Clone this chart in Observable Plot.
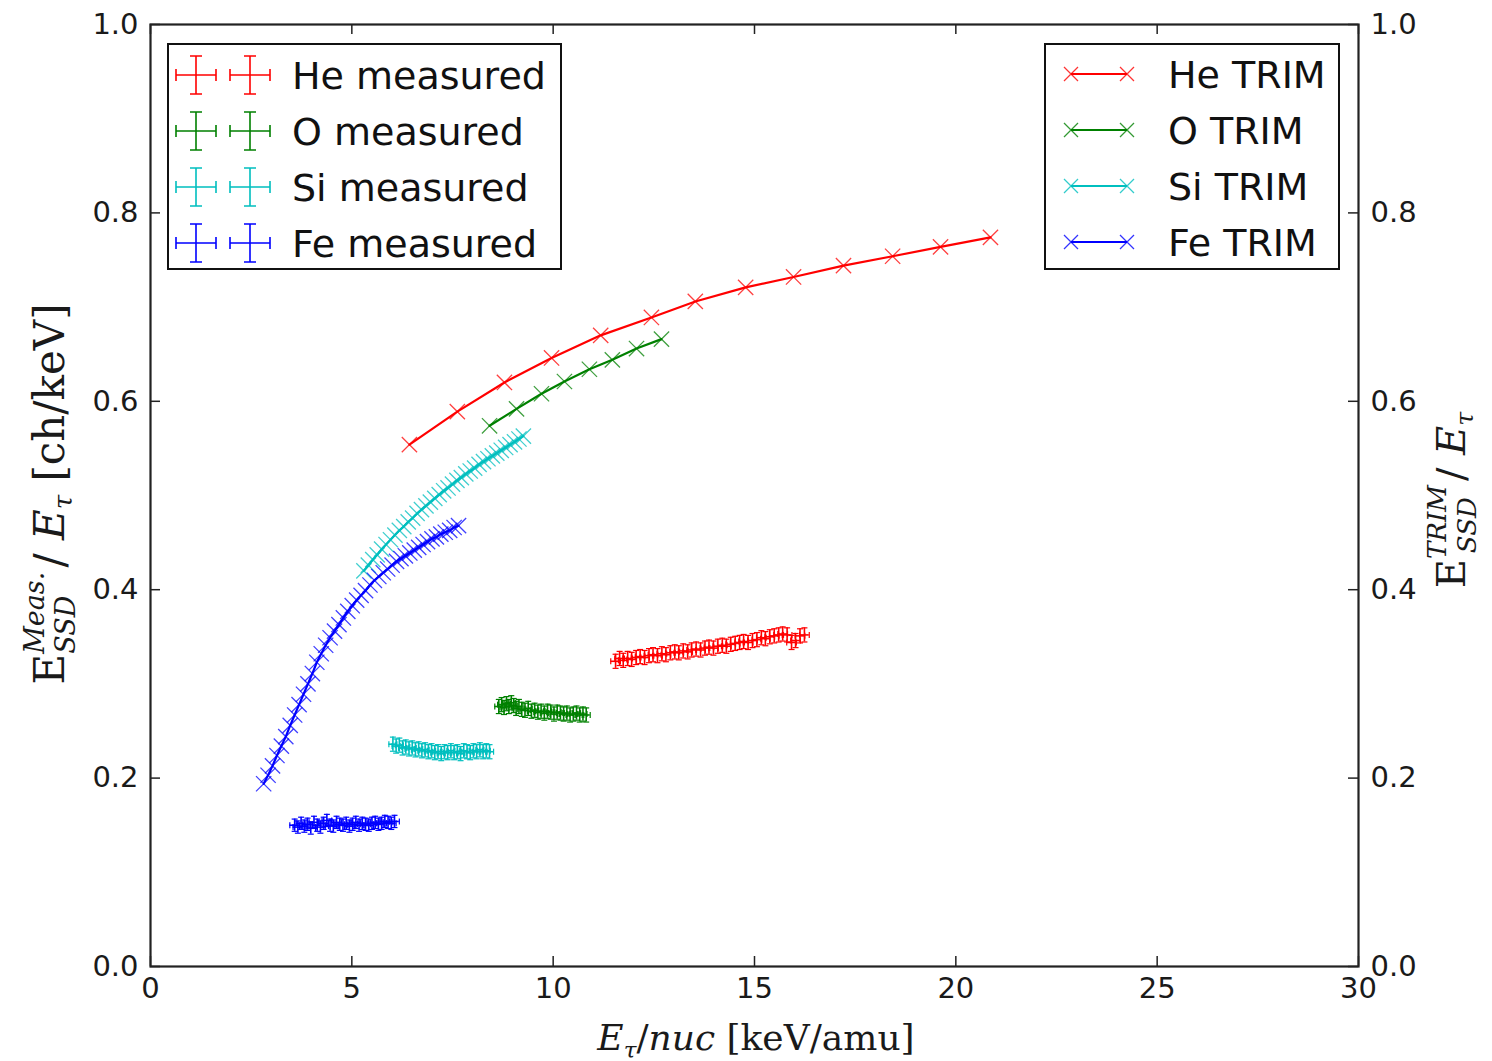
<!DOCTYPE html>
<html><head><meta charset="utf-8">
<script src="https://cdn.jsdelivr.net/npm/d3@7"></script>
<script src="https://cdn.jsdelivr.net/npm/@observablehq/plot@0.6"></script>
<style>
body{margin:0;background:#fff;}
#chart{position:relative;width:1492px;height:1061px;}
</style></head><body><div id="chart"></div>
<script>
// ---------- data ----------
const xTicks = [0, 5, 10, 15, 20, 25, 30];
const yTicks = [0.0, 0.2, 0.4, 0.6, 0.8, 1.0];

// TRIM simulations
const heTrimX = [6.43, 7.62, 8.79, 9.96, 11.18, 12.44, 13.53, 14.78, 15.97, 17.21, 18.43, 19.62, 20.86];
const heTrimY = [0.554, 0.589, 0.620, 0.646, 0.670, 0.689, 0.706, 0.721, 0.732, 0.744, 0.754, 0.764, 0.774];
const oTrimX = [8.42, 9.09, 9.71, 10.28, 10.90, 11.47, 12.07, 12.69];
const oTrimY = [0.574, 0.592, 0.608, 0.621, 0.634, 0.644, 0.656, 0.666];
const siTrimX = [5.30,5.41,5.52,5.63,5.74,5.85,5.96,6.07,6.18,6.29,6.40,6.51,6.62,6.73,6.84,6.95,7.06,7.17,7.28,7.39,7.50,7.61,7.72,7.83,7.94,8.05,8.16,8.27,8.38,8.49,8.60,8.71,8.82,8.93,9.04,9.15,9.26];
const siTrimY = [0.420,0.426,0.432,0.437,0.443,0.448,0.453,0.458,0.463,0.467,0.472,0.476,0.481,0.485,0.489,0.493,0.497,0.501,0.505,0.508,0.512,0.516,0.519,0.523,0.526,0.529,0.533,0.536,0.539,0.542,0.545,0.548,0.551,0.554,0.557,0.560,0.563];
const feTrimX = [2.81,2.92,3.03,3.14,3.25,3.36,3.47,3.58,3.69,3.80,3.91,4.02,4.13,4.24,4.35,4.46,4.57,4.68,4.79,4.90,5.01,5.12,5.23,5.34,5.45,5.56,5.67,5.78,5.89,6.00,6.11,6.22,6.33,6.44,6.55,6.66,6.77,6.88,6.99,7.10,7.21,7.32,7.43,7.54,7.65];
const feTrimY = [0.194,0.203,0.213,0.224,0.234,0.244,0.256,0.267,0.278,0.289,0.300,0.311,0.323,0.332,0.341,0.349,0.356,0.363,0.370,0.377,0.383,0.389,0.394,0.399,0.405,0.410,0.414,0.418,0.422,0.426,0.430,0.433,0.436,0.439,0.442,0.445,0.448,0.451,0.454,0.456,0.459,0.461,0.463,0.466,0.468];

// measured
const heMeasX = [11.55,11.65,11.74,11.85,11.95,12.06,12.16,12.27,12.38,12.48,12.59,12.70,12.80,12.91,13.02,13.12,13.23,13.34,13.44,13.55,13.66,13.77,13.87,13.98,14.09,14.20,14.30,14.41,14.52,14.63,14.73,14.84,14.95,15.06,15.17,15.27,15.38,15.49,15.60,15.70,15.81,15.92,16.02,16.13,16.24];
const heMeasY = [0.324,0.327,0.325,0.327,0.326,0.328,0.329,0.328,0.330,0.331,0.330,0.332,0.331,0.333,0.334,0.333,0.335,0.334,0.336,0.337,0.336,0.338,0.339,0.338,0.340,0.341,0.340,0.342,0.343,0.344,0.345,0.344,0.346,0.347,0.349,0.348,0.350,0.351,0.352,0.353,0.352,0.344,0.346,0.351,0.352];
const oMeasX = [8.65,8.72,8.78,8.84,8.90,8.96,9.02,9.08,9.15,9.22,9.30,9.38,9.46,9.54,9.62,9.70,9.78,9.86,9.94,10.02,10.10,10.18,10.26,10.34,10.42,10.50,10.58,10.66,10.74,10.82];
const oMeasY = [0.276,0.278,0.275,0.279,0.276,0.280,0.277,0.274,0.276,0.273,0.272,0.274,0.271,0.272,0.270,0.271,0.269,0.271,0.270,0.268,0.270,0.269,0.268,0.269,0.267,0.268,0.269,0.267,0.268,0.267];
const siMeasX = [6.02,6.10,6.18,6.26,6.34,6.42,6.50,6.58,6.66,6.74,6.82,6.90,6.98,7.06,7.14,7.22,7.30,7.38,7.46,7.54,7.62,7.70,7.78,7.86,7.94,8.02,8.10,8.18,8.26,8.34,8.42];
const siMeasY = [0.236,0.234,0.235,0.232,0.233,0.231,0.232,0.230,0.231,0.229,0.230,0.228,0.229,0.227,0.228,0.226,0.228,0.227,0.229,0.227,0.228,0.226,0.229,0.228,0.227,0.229,0.228,0.230,0.228,0.229,0.228];
const feMeasX = [3.58,3.66,3.74,3.82,3.90,3.98,4.06,4.14,4.22,4.30,4.38,4.46,4.54,4.62,4.70,4.78,4.86,4.94,5.02,5.10,5.18,5.26,5.34,5.42,5.50,5.58,5.66,5.74,5.82,5.90,5.98,6.06];
const feMeasY = [0.150,0.148,0.152,0.149,0.151,0.147,0.153,0.150,0.148,0.152,0.155,0.150,0.149,0.153,0.151,0.150,0.152,0.149,0.151,0.153,0.150,0.152,0.151,0.150,0.152,0.153,0.151,0.152,0.154,0.153,0.152,0.154];
const measXErr = [0.12, 0.10, 0.10, 0.12]; // He, O, Si, Fe
const measYErr = [0.0075, 0.0075, 0.0075, 0.0065];

const species = ["He", "O", "Si", "Fe"];
const colors = ["#ff0000", "#008000", "#00bfbf", "#0000ff"];

// ---------- build tables ----------
const zip = (xs, ys, extra) => xs.map((x, i) => ({x, y: ys[i], ...extra}));
const trim = [
  zip(heTrimX, heTrimY, {s: "He"}), zip(oTrimX, oTrimY, {s: "O"}),
  zip(siTrimX, siTrimY, {s: "Si"}), zip(feTrimX, feTrimY, {s: "Fe"})
];
const meas = [
  zip(heMeasX, heMeasY, {s: "He"}), zip(oMeasX, oMeasY, {s: "O"}),
  zip(siMeasX, siMeasY, {s: "Si"}), zip(feMeasX, feMeasY, {s: "Fe"})
];

const W = 1492, H = 1061, mL = 150, mR = 134, mT = 24, mB = 95;
const plotH = H - mT - mB, plotW = W - mL - mR;
const tickPx = 10;
const tyLen = tickPx / plotH * 1.0;   // in y units (domain 0..1)
const txLen = tickPx / plotW * 30;    // in x units (domain 0..30)

const hCap = {draw(ctx, size) { const r = Math.sqrt(size / Math.PI); ctx.moveTo(-r, 0); ctx.lineTo(r, 0); }};
const vCap = {draw(ctx, size) { const r = Math.sqrt(size / Math.PI); ctx.moveTo(0, -r); ctx.lineTo(0, r); }};

const marks = [];
meas.forEach((data, i) => {
  const c = colors[i], ex = measXErr[i], ey = measYErr[i];
  marks.push(
    Plot.ruleY(data, {y: "y", x1: d => d.x - ex, x2: d => d.x + ex, stroke: c, strokeWidth: 1.6}),
    Plot.ruleX(data, {x: "x", y1: d => d.y - ey, y2: d => d.y + ey, stroke: c, strokeWidth: 1.6}),
    Plot.dot(data, {x: "x", y: d => d.y + ey, symbol: hCap, r: 3, stroke: c, strokeWidth: 1.2, fill: "none"}),
    Plot.dot(data, {x: "x", y: d => d.y - ey, symbol: hCap, r: 3, stroke: c, strokeWidth: 1.2, fill: "none"}),
    Plot.dot(data, {x: d => d.x + ex, y: "y", symbol: vCap, r: 3, stroke: c, strokeWidth: 1.2, fill: "none"}),
    Plot.dot(data, {x: d => d.x - ex, y: "y", symbol: vCap, r: 3, stroke: c, strokeWidth: 1.2, fill: "none"})
  );
});
trim.forEach((data, i) => {
  const c = colors[i];
  marks.push(
    Plot.line(data, {x: "x", y: "y", stroke: c, strokeWidth: 2.2}),
    Plot.dot(data, {x: "x", y: "y", symbol: "times", r: 7, stroke: c, strokeWidth: 1.3, strokeOpacity: 0.75})
  );
});

// inward ticks on all four sides
marks.push(
  Plot.ruleX(xTicks, {x: d => d, y1: 0, y2: tyLen, stroke: "#222", strokeWidth: 1.5}),
  Plot.ruleX(xTicks, {x: d => d, y1: 1 - tyLen, y2: 1, stroke: "#222", strokeWidth: 1.5}),
  Plot.ruleY(yTicks, {y: d => d, x1: 0, x2: txLen, stroke: "#222", strokeWidth: 1.5}),
  Plot.ruleY(yTicks, {y: d => d, x1: 30 - txLen, x2: 30, stroke: "#222", strokeWidth: 1.5}),
  Plot.axisX(xTicks, {tickSize: 0, tickPadding: 11, tickFormat: d3.format("d"), fontSize: 29, fill: "#1a1a1a", label: null}),
  Plot.axisY(yTicks, {anchor: "left", tickSize: 0, tickPadding: 12, tickFormat: d3.format(".1f"), fontSize: 29, fill: "#1a1a1a", label: null}),
  Plot.axisY(yTicks, {anchor: "right", tickSize: 0, tickPadding: 12, tickFormat: d3.format(".1f"), fontSize: 29, fill: "#1a1a1a", label: null}),
  Plot.frame({stroke: "#222", strokeWidth: 2.2})
);

const chart = Plot.plot({
  width: W, height: H,
  marginLeft: mL, marginRight: mR, marginTop: mT, marginBottom: mB,
  style: {fontFamily: "DejaVu Sans", background: "#fff", overflow: "visible"},
  x: {domain: [0, 30]},
  y: {domain: [0, 1]},
  marks
});
document.getElementById("chart").appendChild(chart);

// ---------- annotations: axis labels and legends ----------
const svg = d3.select(chart);
const serif = "DejaVu Serif";

// x label
const xl = svg.append("text").attr("x", 756).attr("y", 1050).attr("text-anchor", "middle")
  .attr("font-family", serif).attr("font-size", 36).attr("fill", "#1a1a1a");
xl.append("tspan").attr("font-style", "italic").text("E");
xl.append("tspan").attr("font-style", "italic").attr("font-size", 23).attr("dy", 8).text("τ");
xl.append("tspan").attr("dy", -8).text("/");
xl.append("tspan").attr("font-style", "italic").text("nuc");
xl.append("tspan").text(" [keV/amu]");

// left y label
const yl = svg.append("text").attr("transform", "translate(64,494) rotate(-90)").attr("text-anchor", "middle")
  .attr("font-family", serif).attr("font-size", 42).attr("fill", "#1a1a1a");
yl.append("tspan").text("E");
yl.append("tspan").attr("font-style", "italic").attr("font-size", 27).attr("dy", -20).text("Meas.");
yl.append("tspan").attr("font-style", "italic").attr("font-size", 27).attr("dx", -82).attr("dy", 31).text("SSD");
yl.append("tspan").attr("dx", 28).attr("dy", -11).text("/ ");
yl.append("tspan").attr("font-style", "italic").text("E");
yl.append("tspan").attr("font-style", "italic").attr("font-size", 26).attr("dy", 8).text("τ");
yl.append("tspan").attr("dy", -8).text(" [ch/keV]");

// right y label
const yr = svg.append("text").attr("transform", "translate(1465,500) rotate(-90)").attr("text-anchor", "middle")
  .attr("font-family", serif).attr("font-size", 40).attr("fill", "#1a1a1a");
yr.append("tspan").text("E");
yr.append("tspan").attr("font-style", "italic").attr("font-size", 26).attr("dy", -19).text("TRIM");
yr.append("tspan").attr("font-style", "italic").attr("font-size", 26).attr("dx", -68).attr("dy", 30).text("SSD");
yr.append("tspan").attr("dx", 16).attr("dy", -11).text("/ ");
yr.append("tspan").attr("font-style", "italic").text("E");
yr.append("tspan").attr("font-style", "italic").attr("font-size", 25).attr("dy", 8).text("τ");

const rowY = [75, 131, 187, 243];

// left legend (measured)
const gl = svg.append("g").attr("text-anchor", "start");
gl.append("rect").attr("x", 168).attr("y", 44).attr("width", 393).attr("height", 225)
  .attr("fill", "#fff").attr("stroke", "#111").attr("stroke-width", 2);
species.forEach((s, i) => {
  const c = colors[i], cy = rowY[i];
  [196, 250].forEach(cx => {
    const p = `M${cx - 20},${cy}H${cx + 20}M${cx},${cy - 19}V${cy + 19}` +
      `M${cx - 20},${cy - 6}V${cy + 6}M${cx + 20},${cy - 6}V${cy + 6}` +
      `M${cx - 6},${cy - 19}H${cx + 6}M${cx - 6},${cy + 19}H${cx + 6}`;
    gl.append("path").attr("d", p).attr("stroke", c).attr("stroke-width", 1.6).attr("fill", "none");
  });
  gl.append("text").attr("x", 292).attr("y", cy).attr("dy", "0.36em").attr("text-anchor", "start")
    .attr("font-family", "DejaVu Sans").attr("font-size", 38).attr("fill", "#111").text(`${s} measured`);
});

// right legend (TRIM)
const gr = svg.append("g").attr("text-anchor", "start");
gr.append("rect").attr("x", 1045).attr("y", 44).attr("width", 294).attr("height", 225)
  .attr("fill", "#fff").attr("stroke", "#111").attr("stroke-width", 2);
species.forEach((s, i) => {
  const c = colors[i], cy = rowY[i] - 1;
  gr.append("path").attr("d", `M1071,${cy}H1127`).attr("stroke", c).attr("stroke-width", 2.2);
  [1071, 1127].forEach(cx => {
    gr.append("path").attr("d", `M${cx - 7},${cy - 7}L${cx + 7},${cy + 7}M${cx - 7},${cy + 7}L${cx + 7},${cy - 7}`)
      .attr("stroke", c).attr("stroke-width", 1.3).attr("stroke-opacity", 0.8);
  });
  gr.append("text").attr("x", 1168).attr("y", cy).attr("dy", "0.36em").attr("text-anchor", "start")
    .attr("font-family", "DejaVu Sans").attr("font-size", 38).attr("fill", "#111").text(`${s} TRIM`);
});
</script>
</body></html>
